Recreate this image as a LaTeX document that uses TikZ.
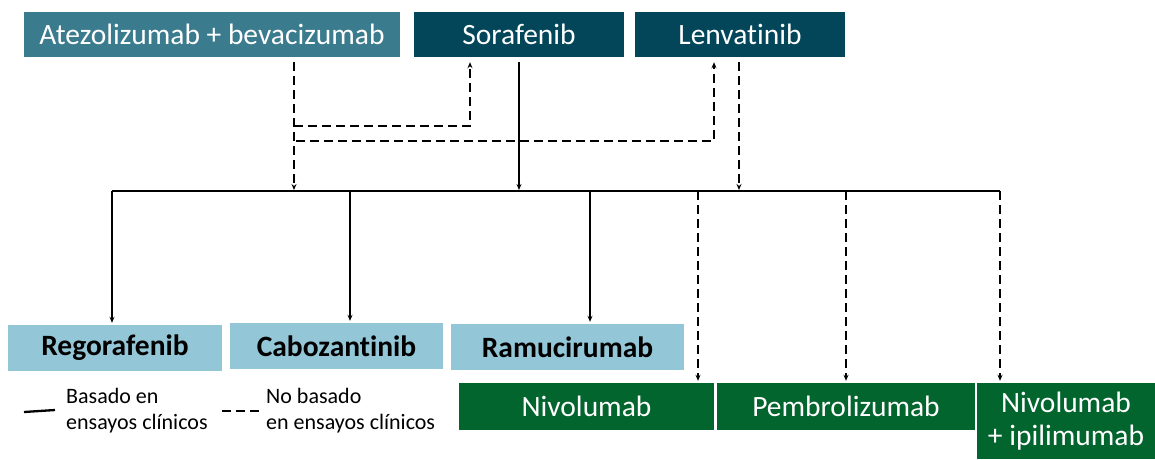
\documentclass[tikz,border=0pt]{standalone}
\usepackage{fontspec}
\setmainfont{Carlito}[Ligatures=NoCommon]
\usetikzlibrary{arrows.meta,calc}
\definecolor{atezoC}{HTML}{3A7B8E}
\definecolor{darkC}{HTML}{03465A}
\definecolor{lightC}{HTML}{93C6D6}
\definecolor{greenC}{HTML}{03652E}
\begin{document}
\begin{tikzpicture}[x=1pt,y=-1pt,
  box/.style={rectangle,inner sep=0pt,font=\fontsize{29.5}{33}\selectfont},
  topbox/.style={box,text=white},
  bluebox/.style={box,fill=lightC,text=black,font=\fontsize{29.5}{33}\selectfont\bfseries},
  greenbox/.style={box,fill=greenC,text=white},
  conn/.style={line width=2.3pt,-{Stealth[length=6pt,width=5pt]}},
  solidc/.style={conn},
  dashc/.style={conn,dash pattern=on 9pt off 5pt},
  legtxt/.style={anchor=west,align=left,inner sep=0pt,font=\fontsize{22}{26}\selectfont}]
\useasboundingbox (0,0) rectangle (1155,459);
% top boxes
\node[topbox,fill=atezoC,minimum width=376pt,minimum height=45pt] (atezo) at (212,34.5) {Atezolizumab + bevacizumab};
\node[topbox,fill=darkC,minimum width=210pt,minimum height=45pt] (sora) at (519,34.5) {Sorafenib};
\node[topbox,fill=darkC,minimum width=210pt,minimum height=45pt] (lenva) at (740,34.5) {Lenvatinib};
% second line boxes
\node[bluebox,minimum width=214pt,minimum height=46pt] (rego) at (115,348) {Regorafenib};
\node[bluebox,minimum width=213pt,minimum height=46pt] (cabo) at (336.5,346) {Cabozantinib};
\node[bluebox,minimum width=233pt,minimum height=46pt] (ramu) at (567.5,347) {Ramucirumab};
\node[greenbox,minimum width=255pt,minimum height=47pt] (nivo) at (586.5,406.5) {Nivolumab};
\node[greenbox,minimum width=258pt,minimum height=47pt] (pembro) at (846,406.5) {Pembrolizumab};
\node[greenbox,minimum width=178pt,minimum height=76pt,align=center,font=\fontsize{29.5}{33}\selectfont] (nivoipi) at (1066,421) {Nivolumab\\+ ipilimumab};
% coordinates
\coordinate (busL) at (112,191);
\coordinate (busR) at (1000,191);
\coordinate (b1) at (294,190);
\coordinate (b2) at (519,190);
\coordinate (b3) at (739,190);
\coordinate (a1) at (294,126);
\coordinate (a2) at (296,141);
\coordinate (d1) at (112,191);
\coordinate (d2) at (350,191);
\coordinate (d3) at (590,191);
\coordinate (d4) at (698,191);
\coordinate (d5) at (846,191);
\coordinate (d6) at (1000,191);
% bus
\draw[line width=2.3pt] (busL) -- (busR);
% top connectors
\draw[dashc] ([xshift=82pt,yshift=-5pt]atezo.south) -- (b1);
\draw[dashc] (a1) -| ([xshift=-49pt,yshift=-5pt]sora.south);
\draw[dashc] (a2) -| ([xshift=-26pt,yshift=-5pt]lenva.south);
\draw[solidc] ([yshift=-5pt]sora.south) -- (b2);
\draw[dashc] ([xshift=-1pt,yshift=-5pt]lenva.south) -- (b3);
% down connectors
\draw[solidc,shorten >=2pt] (d1) -- (rego.north -| d1);
\draw[solidc,shorten >=2pt] (d2) -- (cabo.north -| d2);
\draw[solidc,shorten >=2pt] (d3) -- (ramu.north -| d3);
\draw[dashc,shorten >=2pt] (d4) -- (nivo.north -| d4);
\draw[dashc,shorten >=2pt] (d5) -- (pembro.north -| d5);
\draw[dashc,shorten >=2pt] (d6) -- (nivoipi.north -| d6);
% legend
\coordinate (l1a) at (24,412);
\coordinate (l1b) at (55,410);
\coordinate (l2a) at (222,411);
\coordinate (l2b) at (262,411);
\draw[line width=2.3pt] (l1a) -- (l1b);
\draw[line width=2.3pt,dash pattern=on 9pt off 5pt] (l2a) -- (l2b);
\node[legtxt] (leg1) at (66,411) {Basado en\\ensayos clínicos};
\node[legtxt] (leg2) at (266,411) {No basado\\en ensayos clínicos};
\end{tikzpicture}
\end{document}
